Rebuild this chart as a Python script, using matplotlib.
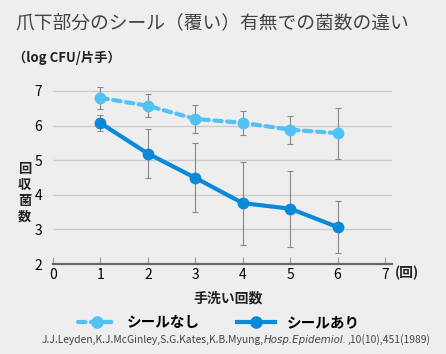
import matplotlib
matplotlib.use('Agg')
import matplotlib.pyplot as plt
from matplotlib.lines import Line2D

plt.rcParams['font.family'] = ['Noto Sans CJK JP', 'DejaVu Sans']

# data (log CFU / hand)
washes = [1, 2, 3, 4, 5, 6]
no_seal = [6.80, 6.57, 6.19, 6.08, 5.88, 5.78]
no_seal_err = [0.32, 0.33, 0.40, 0.35, 0.40, 0.74]
with_seal = [6.07, 5.19, 4.49, 3.76, 3.60, 3.07]
with_seal_err = [0.22, 0.70, 1.00, 1.20, 1.10, 0.75]
xticks = [0, 1, 2, 3, 4, 5, 6, 7]
yticks = [2, 3, 4, 5, 6, 7]
cite_parts = ['J.J.Leyden,K.J.McGinley,S.G.Kates,K.B.Myung,',
              'Hosp.Epidemiol.', ',10(10),451(1989)']

bg = '#eeeeee'
light = '#52c2f5'
dark = '#0a89d9'
dash = (0, (1.8, 1.3))

fig = plt.figure(figsize=(4.46, 3.54), dpi=100, facecolor=bg)
ax = fig.add_axes([0.119, 0.254, 0.760, 0.499], facecolor=bg)

# error bars
ax.errorbar(washes, no_seal, yerr=no_seal_err, fmt='none', ecolor='#888888',
            elinewidth=0.8, capsize=2.5, capthick=0.8, zorder=2)
ax.errorbar(washes, with_seal, yerr=with_seal_err, fmt='none', ecolor='#888888',
            elinewidth=0.8, capsize=2.5, capthick=0.8, zorder=2)

# lines
ax.plot(washes, no_seal, color=light, lw=3, ls=dash,
        dash_capstyle='round', marker='o', ms=7.5, zorder=3)
ax.plot(washes, with_seal, color=dark, lw=3, marker='o', ms=7.5, zorder=4)

ax.set_xlim(0, 7.15)
ax.set_ylim(2, 7.1)
ax.set_xticks(xticks)
ax.set_yticks(yticks)
ax.tick_params(axis='x', direction='in', length=5, width=0.8, color='#999999',
               labelsize=10, pad=3)
ax.tick_params(axis='y', length=0, labelsize=10, pad=8)
ax.grid(axis='y', color='#cccccc', lw=1)
ax.set_axisbelow(True)
for s in ['top', 'right', 'left']:
    ax.spines[s].set_visible(False)
ax.spines['bottom'].set_color('#666666')
ax.spines['bottom'].set_linewidth(1.6)

# texts
fig.text(0.034, 0.937, '爪下部分のシール（覆い）有無での菌数の違い', fontsize=13.5,
         color='#444444', va='center', ha='left')
fig.text(0.030, 0.838, '（log CFU/片手）', fontsize=9.5, fontweight='bold',
         color='#222222', va='center', ha='left')
fig.text(0.055, 0.455, '\n'.join('回収菌数'), fontsize=9.5, fontweight='bold',
         color='#222222', va='center', ha='center', linespacing=1.2)
fig.text(0.886, 0.228, '(回)', fontsize=10, fontweight='bold', color='#222222',
         va='center', ha='left')
fig.text(0.511, 0.158, '手洗い回数', fontsize=10, fontweight='bold',
         color='#222222', va='center', ha='center')

handles = [
    Line2D([], [], color=light, lw=3, ls=dash, dash_capstyle='round',
           marker='o', ms=8),
    Line2D([], [], color=dark, lw=3, marker='o', ms=8),
]
fig.legend(handles, ['シールなし', 'シールあり'], loc='center',
           bbox_to_anchor=(0.49, 0.09), ncol=2, frameon=False,
           handlelength=2.6, columnspacing=2.5, handletextpad=0.8,
           prop={'size': 10.5, 'weight': 'bold'})

# citation, with the journal in italics
fig.canvas.draw()
renderer = fig.canvas.get_renderer()
x0 = 0.094
for part, style in zip(cite_parts, ['normal', 'italic', 'normal']):
    t = fig.text(x0, 0.04, part, fontsize=7.4, color='#444444', va='center',
                 ha='left', fontstyle=style,
                 family=['DejaVu Sans'] if style == 'italic' else None)
    w = t.get_window_extent(renderer).width
    x0 += w / fig.bbox.width

fig.savefig('out.png', dpi=100, facecolor=bg)
